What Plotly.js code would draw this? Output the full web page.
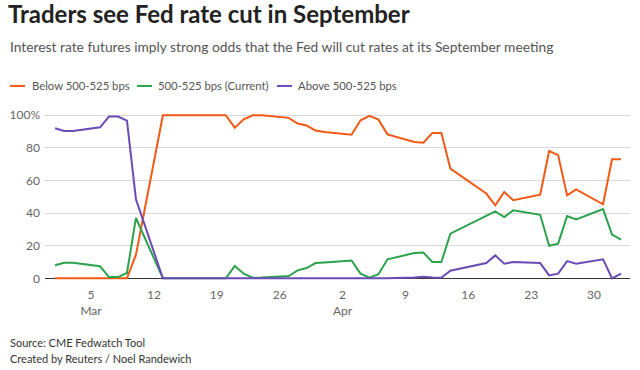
<!DOCTYPE html>
<html>
<head>
<meta charset="utf-8">
<script src="https://cdn.plot.ly/plotly-3.0.1.min.js"></script>
<style>html,body{margin:0;padding:0;background:#fff;}#chart{width:640px;height:370px;}</style>
</head>
<body>
<div id="chart"></div>
<script>
const dates = [
  "2023-03-01","2023-03-02","2023-03-03","2023-03-06","2023-03-07","2023-03-08","2023-03-09","2023-03-10",
  "2023-03-13","2023-03-14","2023-03-15","2023-03-16","2023-03-17",
  "2023-03-20","2023-03-21","2023-03-22","2023-03-23","2023-03-24",
  "2023-03-27","2023-03-28","2023-03-29","2023-03-30","2023-03-31",
  "2023-04-03","2023-04-04","2023-04-05","2023-04-06","2023-04-07",
  "2023-04-10","2023-04-11","2023-04-12","2023-04-13","2023-04-14",
  "2023-04-17","2023-04-18","2023-04-19","2023-04-20","2023-04-21",
  "2023-04-24","2023-04-25","2023-04-26","2023-04-27","2023-04-28",
  "2023-05-01","2023-05-02","2023-05-03"
];
const below = [
  0,0,0,0,0,0,0,14.5,
  100,100,100,100,100,
  100,92.4,97.5,100,100,
  98.4,94.9,93.7,90.6,89.8,
  88.1,96.9,99.6,97.3,88.3,
  83.6,83.2,89.2,89.2,67.3,
  55.7,52,44.8,53,47.9,
  51.3,78.1,75.5,50.9,54.6,
  45.4,73,73
];
const current = [
  8,9.6,9.6,7.4,0.8,0.8,3.3,37,
  0,0,0,0,0,
  0,7.6,2.9,0.4,0.5,
  1.4,4.9,6.3,9.4,9.8,
  11,2.9,0.4,2.5,11.7,
  15.5,15.8,10,10,27.4,
  35.7,38.4,41.1,37.6,41.7,
  39,20,21.3,38.2,36.2,
  42.5,26.8,23.7
];
const above = [
  92,90.4,90.4,92.6,99.2,99.2,96.7,48.5,
  0,0,0,0,0,
  0,0,0,0,0,
  0,0,0,0,0,
  0.4,0.2,0,0.2,0,
  0.6,1,0.5,0.4,4.7,
  8.2,9.4,14.1,9,10,
  9.4,1.8,2.9,10.6,9,
  11.7,0,2.9
];
const seriesNames = ["Below 500-525 bps","500-525 bps (Current)","Above 500-525 bps"];
const colors = ["#f05a14","#2ca24c","#6a4bb6"];
const xTickVals = ["2023-03-05","2023-03-12","2023-03-19","2023-03-26","2023-04-02","2023-04-09","2023-04-16","2023-04-23","2023-04-30"];
const xTickText = ["5<br>Mar","12","19","26","2<br>Apr","9","16","23","30"];
const yTickVals = [0,20,40,60,80,100];
const yTickText = ["0","20","40","60","80","100%"];

const F = "Lato, 'Open Sans', sans-serif";
const W = 640, H = 370;
const M = {l:45, r:10, t:112, b:90.4};
const PW = W - M.l - M.r, PH = H - M.t - M.b;
const px = x => (x - M.l) / PW;
const py = y => (H - M.b - y) / PH;

const traces = [below, current, above].map((s,i)=>({
  x: dates, y: s, type: "scatter", mode: "lines", name: seriesNames[i],
  line: {color: colors[i], width: 2}, hoverinfo: "x+y"
}));

const annotations = [
  {xref:"paper", yref:"paper", x:px(8), y:py(47), xanchor:"left", yanchor:"middle",
   text:"Interest rate futures imply strong odds that the Fed will cut rates at its September meeting",
   showarrow:false, font:{family:F, size:13.8, color:"#555"}},
  {xref:"paper", yref:"paper", x:px(8), y:py(342), xanchor:"left", yanchor:"middle",
   text:"Source: CME Fedwatch Tool", showarrow:false, font:{family:F, size:11, color:"#333"}},
  {xref:"paper", yref:"paper", x:px(8), y:py(358), xanchor:"left", yanchor:"middle",
   text:"Created by Reuters / Noel Randewich", showarrow:false, font:{family:F, size:11, color:"#333"}}
];
const legDash = [[10,25],[137,152],[277,292]];
const legText = [30, 156, 296];
const shapes = [];
seriesNames.forEach((n,i)=>{
  shapes.push({type:"line", xref:"paper", yref:"paper", x0:px(legDash[i][0]), x1:px(legDash[i][1]),
    y0:py(86), y1:py(86), line:{color:colors[i], width:2}});
  annotations.push({xref:"paper", yref:"paper", x:px(legText[i]), y:py(86), xanchor:"left", yanchor:"middle",
    text:n, showarrow:false, font:{family:F, size:11.3, color:"#555"}});
});

const layout = {
  width: W, height: H,
  margin: {l:M.l, r:M.r, t:M.t, b:M.b, pad:0},
  paper_bgcolor:"#fff", plot_bgcolor:"#fff",
  showlegend:false,
  title: {text:"<b>Traders see Fed rate cut in September</b>", xref:"container", yref:"container",
    x:8/W, xanchor:"left", y:1-15/H, yanchor:"middle", font:{family:F, size:24, color:"#222"}},
  xaxis: {type:"date", range:["2023-02-27 21:00","2023-05-04 00:00"], tickvals:xTickVals, ticktext:xTickText,
    showgrid:false, zeroline:false, showline:false, ticks:"", ticklabelstandoff:6,
    tickfont:{family:F, size:12, color:"#666"}, fixedrange:true},
  yaxis: {range:[-1,102], tickvals:yTickVals, ticktext:yTickText, showgrid:true, gridcolor:"#d9d9d9", gridwidth:1,
    zeroline:true, zerolinecolor:"#333", zerolinewidth:1.2, ticks:"", tickfont:{family:F, size:12, color:"#666"},
    ticklabelstandoff:4, fixedrange:true},
  shapes: shapes,
  annotations: annotations
};
Plotly.newPlot("chart", traces, layout, {displayModeBar:false, staticPlot:true});
</script>
</body>
</html>
